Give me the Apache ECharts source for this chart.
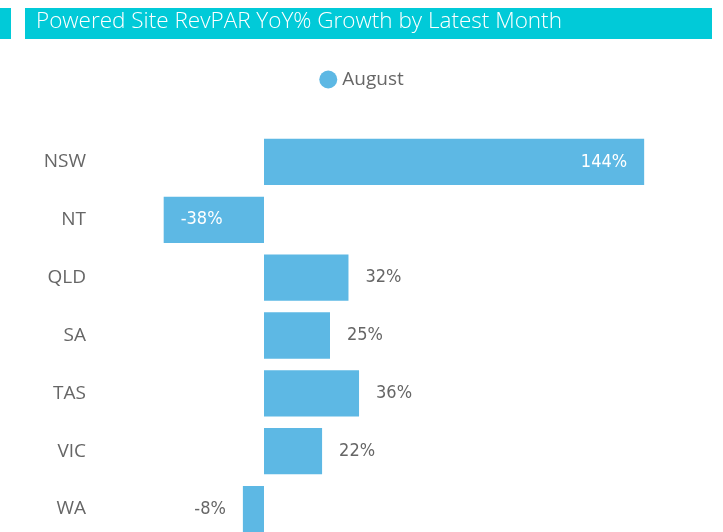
<!DOCTYPE html>
<html><head><meta charset="utf-8">
<script src="https://cdn.jsdelivr.net/npm/echarts@6/dist/echarts.min.js"></script>
<style>html,body{margin:0;padding:0;background:#fff}#c{width:723px;height:532px}</style>
</head><body><div id="c"></div>
<script>
const categories = ['NSW','NT','QLD','SA','TAS','VIC','WA'];
const august = [144, -38, 32, 25, 36, 22, -8];
const insideLabel = [true, true, false, false, false, false, false];

const FONT = '"Open Sans", "Noto Sans", sans-serif';
const NUMFONT = '"DejaVu Sans Condensed", "DejaVu Sans", sans-serif';
const chart = echarts.init(document.getElementById('c'));
const data = august.map((v, i) => {
  let pos;
  if (insideLabel[i]) pos = v >= 0 ? 'insideRight' : 'insideLeft';
  else pos = v >= 0 ? 'right' : 'left';
  return {
    value: v,
    label: {
      position: pos,
      distance: 17,
      color: insideLabel[i] ? '#ffffff' : '#666666'
    }
  };
});
chart.setOption({
  animation: false,
  graphic: [
    { type: 'rect', shape: { x: 0, y: 8, width: 11, height: 31 }, style: { fill: '#01CAD8' } },
    { type: 'rect', shape: { x: 25, y: 8, width: 687, height: 31 }, style: { fill: '#01CAD8' } },
    { type: 'text', left: 36, top: 10, style: { text: 'Powered Site RevPAR YoY% Growth by Latest Month', fill: '#ffffff', font: '300 22.5px ' + FONT } }
  ],
  legend: {
    top: 65, left: 'center',
    icon: 'circle', itemWidth: 18, itemHeight: 18, itemGap: 4,
    textStyle: { color: '#666666', fontSize: 19, fontFamily: FONT },
    data: ['August']
  },
  grid: { left: 132, top: 133, width: 528, height: 405, containLabel: false, outerBoundsMode: 'none' },
  xAxis: {
    type: 'value', min: -50, max: 150, show: false
  },
  yAxis: {
    type: 'category', data: categories, inverse: true,
    axisLine: { show: false }, axisTick: { show: false }, splitLine: { show: false },
    axisLabel: { color: '#666666', fontSize: 19, fontFamily: FONT, margin: 46 }
  },
  series: [{
    name: 'August', type: 'bar', data: data,
    barCategoryGap: '20%',
    itemStyle: { color: '#5DB8E4' },
    label: {
      show: true, fontSize: 18, fontFamily: NUMFONT,
      formatter: p => p.value + '%'
    }
  }]
});
</script></body></html>
